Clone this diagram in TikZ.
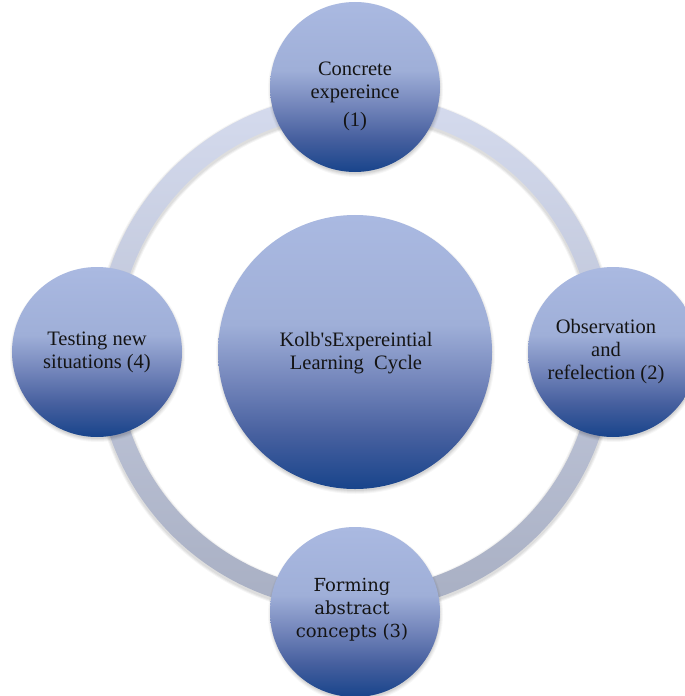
\documentclass[tikz,border=0pt]{standalone}
\usepackage{fontspec}
\setmainfont{Liberation Serif}[Ligatures=TeXOff]
\newfontfamily\cambriaish{DejaVu Serif}
\usetikzlibrary{calc}
\definecolor{ballTop}{HTML}{AAB9E1}
\definecolor{ballA}{HTML}{9FAFD8}
\definecolor{ballB}{HTML}{7587BC}
\definecolor{ballC}{HTML}{47609F}
\definecolor{ballBot}{HTML}{18448B}
\definecolor{ringTop}{HTML}{D5DBEE}
\definecolor{ringBot}{HTML}{A8AFC3}
\definecolor{txtcol}{HTML}{141414}
\pgfdeclareverticalshading{ballshade}{100bp}{color(0bp)=(ballBot); color(25bp)=(ballBot); color(35bp)=(ballC); color(45bp)=(ballB); color(55bp)=(ballA); color(75bp)=(ballTop); color(100bp)=(ballTop)}
\tikzset{
  ball/.style={circle, inner sep=0pt, shading=ballshade},
  lbl/.style={align=center, text=txtcol, inner sep=0pt, font=\fontsize{20.5bp}{23bp}\selectfont},
  lblb/.style={align=center, text=txtcol, inner sep=0pt, font=\cambriaish\fontsize{18bp}{23bp}\selectfont},
}
\begin{document}
\begin{tikzpicture}[x=1bp,y=-1bp]
\useasboundingbox (0,0) rectangle (685,696);
\clip (0,0) rectangle (685,696);
% ring shadow and ring
\foreach \d/\o in {1/0.05,2/0.05,3/0.04} {
  \fill[black,opacity=\o,even odd rule] (355,354) circle (259+\d) (355,354) circle (238-\d);
}
\coordinate (ringc) at (355,352);
\path[even odd rule, top color=ringTop, bottom color=ringBot] (ringc) circle (259) (ringc) circle (238);
% circle shadows
\foreach \cx/\cy/\r in {355/352/137, 355/87/85, 613/352/85, 355/612/85, 97/352/85} {
  \foreach \d/\o in {1/0.06,2/0.05,3/0.04,4/0.03} {
    \fill[black,opacity=\o] (\cx+0.5,\cy+2.5) circle (\r+\d-1.5);
  }
}
% circles
\node[ball, minimum size=274bp] (hub) at (355,352) {};
\node[ball, minimum size=170bp] (n1) at (355,87) {};
\node[ball, minimum size=170bp] (n2) at (613,352) {};
\node[ball, minimum size=170bp] (n3) at (355,612) {};
\node[ball, minimum size=170bp] (n4) at (97,352) {};
% labels
\node[lbl] (t0) at (356,353) {Kolb's\kern0ptExpereintial\\Learning\ \ Cycle};
\node[lbl] (t1) at (355,96) {Concrete\\expereince\\[5bp](1)};
\node[lbl] (t2) at (606,352) {Observation\\and\\refelection (2)};
\node[lblb] (t3) at (352,610) {Forming\\abstract\\concepts (3)};
\node[lbl] (t4) at (97,352) {Testing new\\situations (4)};
\end{tikzpicture}
\end{document}
